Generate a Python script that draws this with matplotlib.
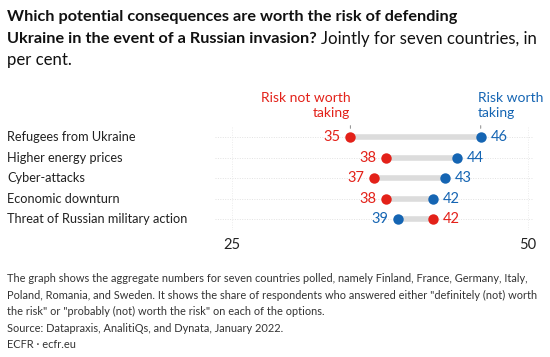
import matplotlib
matplotlib.use("Agg")
import matplotlib.pyplot as plt

# data
categories = ["Refugees from Ukraine", "Higher energy prices", "Cyber-attacks",
              "Economic downturn", "Threat of Russian military action"]
not_worth = [35, 38, 37, 38, 42]
worth = [46, 44, 43, 42, 39]
xticks = [25, 50]

RED = "#e32119"
BLUE = "#1565b3"
W, H = 550, 357

plt.rcParams['font.family'] = ['Lato', 'DejaVu Sans']

fig = plt.figure(figsize=(W / 100, H / 100), dpi=100)


def px(x, y):
    return x / W, 1 - y / H


# axes spans from pixel 215 to 533 horizontally, rows at 137..219
ax = fig.add_axes([215 / W, 1 - 229.5 / H, (533 - 215) / W, 102.5 / H])
ax.set_xlim(23.56, 50.42)
ax.set_ylim(4.5, -0.5)
for s in ax.spines.values():
    s.set_visible(False)
ax.set_yticks([])
ax.set_xticks(xticks)
ax.tick_params(axis='x', length=0, labelsize=10.5, pad=6, labelcolor="#222222")

ys = list(range(len(categories)))
for y in ys:
    ax.axhline(y, color="#e2e2e2", lw=0.7, ls=(0, (1, 1.5)), zorder=0)
for t in xticks:
    ax.axvline(t, color="#ececec", lw=0.7, ls=(0, (1, 1.5)), zorder=0)

for y, a, b in zip(ys, not_worth, worth):
    ax.plot([a, b], [y, y], color="#dcdcdc", lw=4, solid_capstyle='butt', zorder=1)
    ax.plot(a, y, 'o', color=RED, ms=7.5, mec='none', zorder=3)
    ax.plot(b, y, 'o', color=BLUE, ms=7.5, mec='none', zorder=3)
    lo_c, hi_c = (RED, BLUE) if a < b else (BLUE, RED)
    ax.annotate(str(min(a, b)), (min(a, b), y), xytext=(-7, 0), textcoords='offset points',
                ha='right', va='center', color=lo_c, fontsize=10.5)
    ax.annotate(str(max(a, b)), (max(a, b), y), xytext=(7, 0), textcoords='offset points',
                ha='left', va='center', color=hi_c, fontsize=10.5)

# series labels above first row
for xv in (not_worth[0], worth[0]):
    ax.annotate("", (xv, -0.3), xytext=(xv, -0.7),
                arrowprops=dict(arrowstyle='-', color="#999999", lw=0.8), annotation_clip=False)
ax.text(not_worth[0], -0.88, "Risk not worth\ntaking", color=RED, fontsize=10,
        ha='right', va='bottom', multialignment='right', linespacing=1.3)
ax.text(worth[0] - 0.25, -0.88, "Risk worth\ntaking", color=BLUE, fontsize=10,
        ha='left', va='bottom', multialignment='left', linespacing=1.3)

# category labels
for y, c in zip(ys, categories):
    fig.text(7 / W, ax.transData.transform((0, y))[1] / H, c, fontsize=9.2,
             va='center', ha='left', color="#222222", transform=fig.transFigure)

# title
fig.text(*px(7, 17), "Which potential consequences are worth the risk of defending",
         fontsize=11.7, fontweight='bold', va='center', color="#111111")
t2 = fig.text(*px(7, 39), "Ukraine in the event of a Russian invasion?",
              fontsize=11.7, fontweight='bold', va='center', color="#111111")
fig.canvas.draw()
bb = t2.get_window_extent(fig.canvas.get_renderer())
fig.text((bb.x1 + 4) / W, 1 - 39 / H, "Jointly for seven countries, in",
         fontsize=12.1, va='center', color="#111111")
fig.text(*px(7, 60), "per cent.", fontsize=12.1, va='center', color="#111111")

# footnotes
notes = ["The graph shows the aggregate numbers for seven countries polled, namely Finland, France, Germany, Italy,",
         "Poland, Romania, and Sweden. It shows the share of respondents who answered either \"definitely (not) worth",
         "the risk\" or \"probably (not) worth the risk\" on each of the options."]
for i, line in enumerate(notes):
    fig.text(*px(7, 279 + 16 * i), line, fontsize=7.9, va='center', color="#333333")
fig.text(*px(7, 328), "Source: Datapraxis, AnalitiQs, and Dynata, January 2022.",
         fontsize=7.9, va='center', color="#333333")
fig.text(*px(7, 345), "ECFR \u00b7 ecfr.eu", fontsize=7.9, va='center', color="#333333")

fig.savefig("out.png", dpi=100)
